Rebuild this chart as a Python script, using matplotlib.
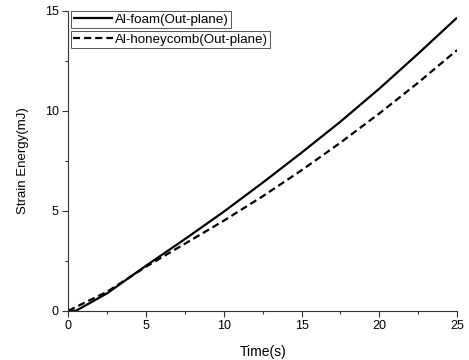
import matplotlib
matplotlib.use("Agg")
import matplotlib.pyplot as plt
from matplotlib.ticker import MultipleLocator

plt.rcParams['font.family'] = ['Liberation Sans', 'DejaVu Sans']

foam_t = [0, 0.5, 2.5, 5, 7.5, 10, 12.5, 15, 17.5, 20, 22.5, 25]
foam_e = [0, 0, 0.87, 2.25, 3.58, 4.95, 6.4, 7.9, 9.45, 11.1, 12.85, 14.65]
honey_t = [0, 2.5, 5, 7.5, 10, 12.5, 15, 17.5, 20, 22.5, 25]
honey_e = [0, 0.95, 2.2, 3.35, 4.5, 5.72, 7.02, 8.4, 9.86, 11.4, 13.03]
labels = ['Al-foam(Out-plane)', 'Al-honeycomb(Out-plane)']
x_ticks = [0, 5, 10, 15, 20, 25]
y_ticks = [0, 5, 10, 15]

fig = plt.figure(figsize=(4.69, 3.6), dpi=100)
ax = fig.add_axes([68.3/469, 1-310.7/360, 388.7/469, 300/360])

l1, = ax.plot(foam_t, foam_e, color='black', lw=1.6, solid_capstyle='butt')
l2, = ax.plot(honey_t, honey_e, color='black', lw=1.6, linestyle=(0, (3.2, 1.8)))

ax.set_xlim(0, 25)
ax.set_ylim(0, 15)
ax.set_xticks(x_ticks)
ax.set_yticks(y_ticks)
ax.xaxis.set_minor_locator(MultipleLocator(2.5))
ax.yaxis.set_minor_locator(MultipleLocator(2.5))
ax.tick_params(which='major', direction='out', length=4, width=0.8, labelsize=9, color='#333333', pad=3)
ax.tick_params(which='minor', direction='out', length=2.5, width=0.8, color='#333333')
for s in ['top', 'right']:
    ax.spines[s].set_visible(False)
for s in ['left', 'bottom']:
    ax.spines[s].set_linewidth(0.8)
    ax.spines[s].set_color('#333333')

ax.set_xlabel('Time(s)', fontsize=10, labelpad=9)
ax.set_ylabel('Strain Energy(mJ)', fontsize=9.5, labelpad=11)

common = dict(frameon=True, fancybox=False, fontsize=9.6, borderpad=0.2,
              handletextpad=0.1, handlelength=3.0, borderaxespad=0, framealpha=1)
leg1 = ax.legend(handles=[l1], labels=[labels[0]], loc='upper left',
                 bbox_to_anchor=(0.006, 1.0), **common)
leg1.get_frame().set_edgecolor('#555555')
leg1.get_frame().set_linewidth(0.7)
ax.add_artist(leg1)
leg2 = ax.legend(handles=[l2], labels=[labels[1]], loc='upper left',
                 bbox_to_anchor=(0.006, 0.933), **common)
leg2.get_frame().set_edgecolor('#555555')
leg2.get_frame().set_linewidth(0.7)

fig.savefig('out.png', dpi=100)
